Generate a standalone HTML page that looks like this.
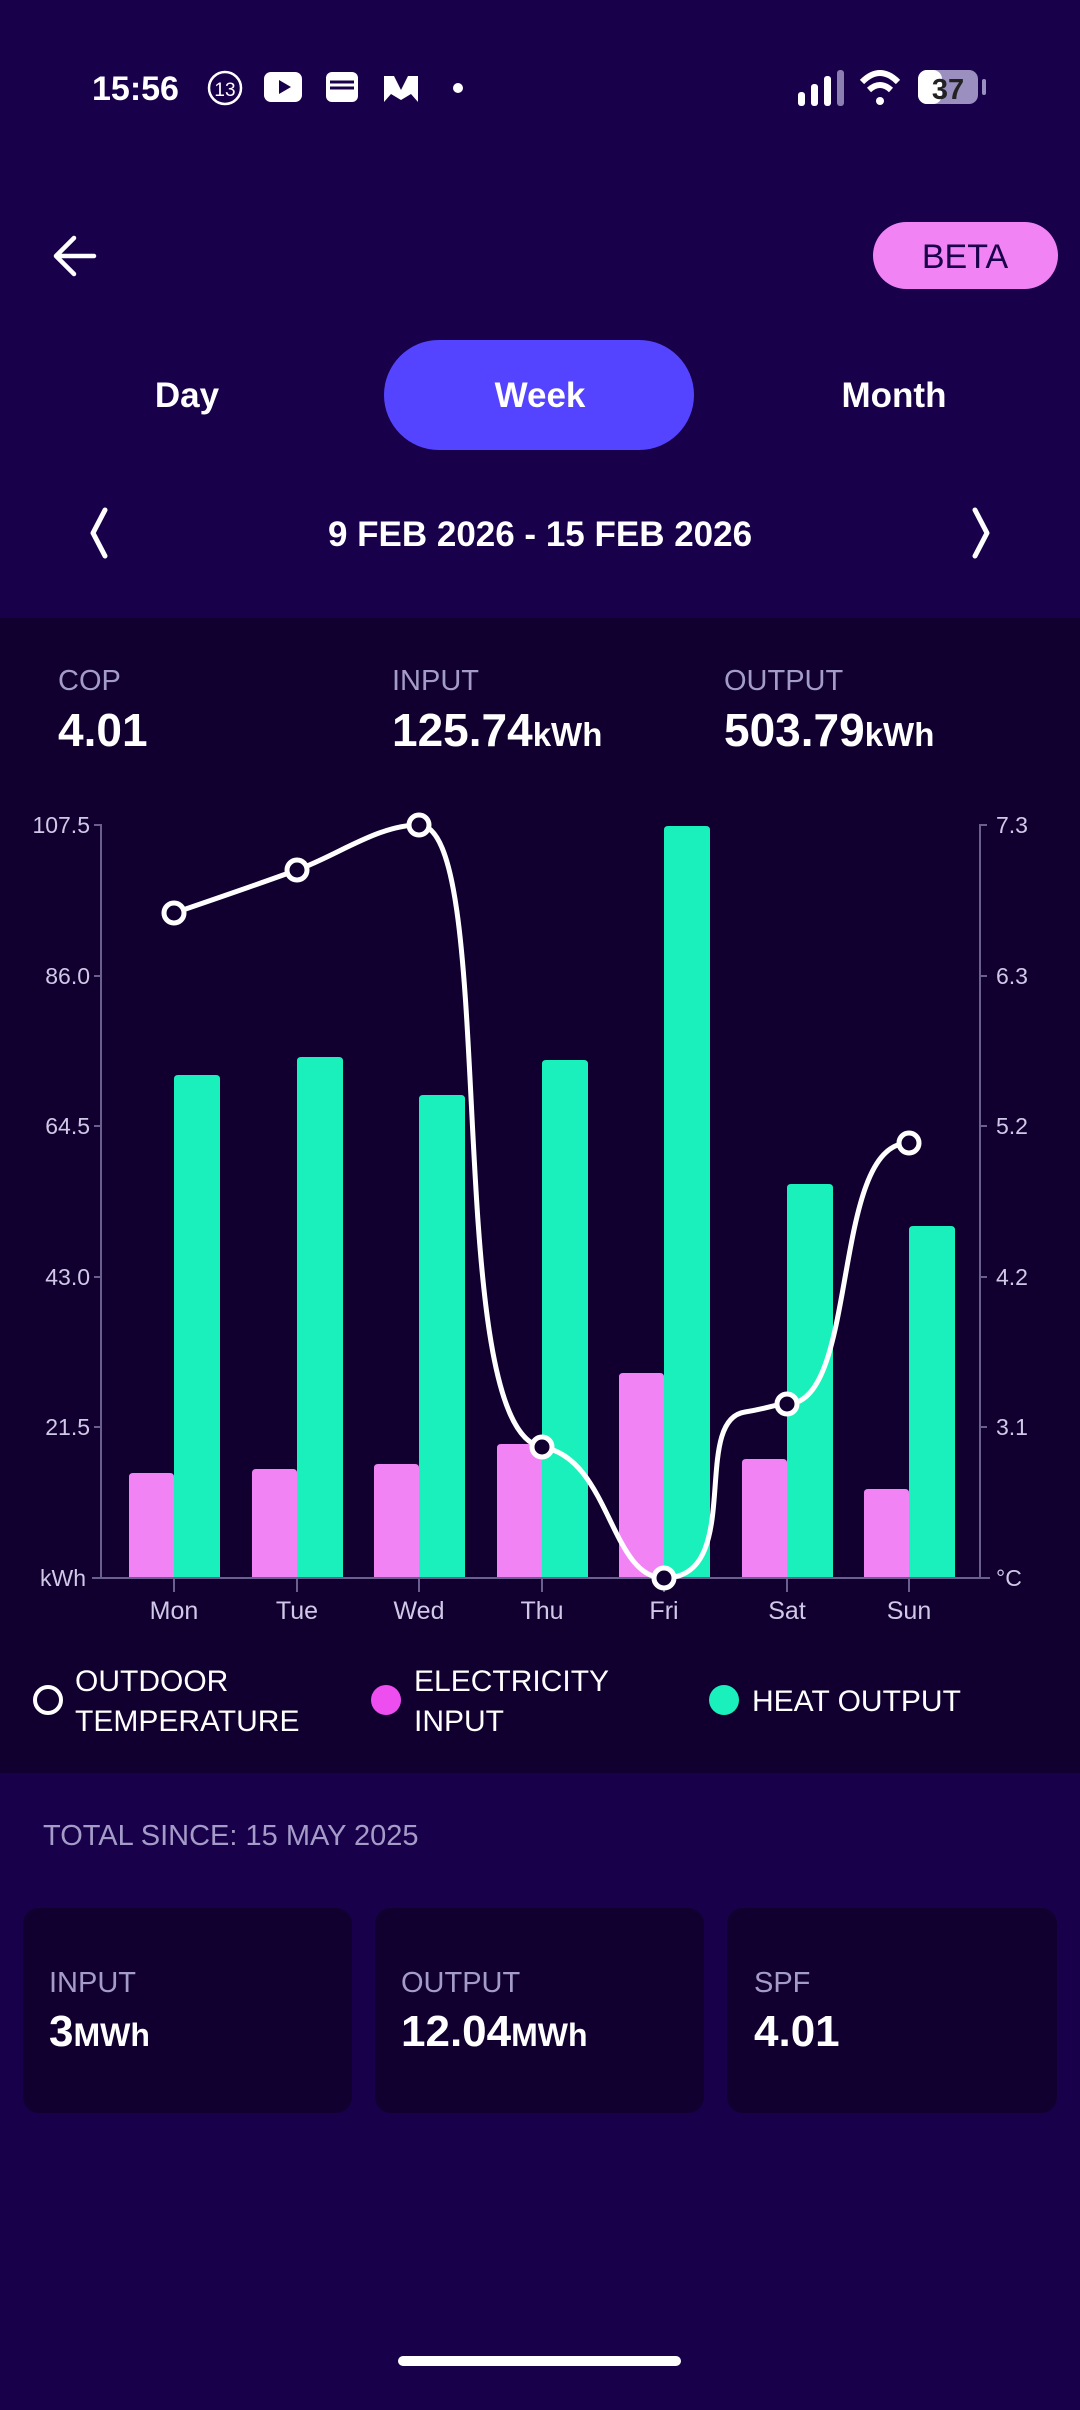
<!DOCTYPE html>
<html><head><meta charset="utf-8"><style>
html,body{margin:0;padding:0;background:#19004a;}
svg{display:block;font-family:"Liberation Sans",sans-serif;}
</style></head><body>
<svg width="1080" height="2410" viewBox="0 0 1080 2410" xmlns="http://www.w3.org/2000/svg">
<rect width="1080" height="2410" fill="#19004a"/>
<!-- status bar -->
<text x="92" y="100" fill="#fff" font-size="34" font-weight="bold">15:56</text>
<circle cx="225" cy="88" r="16" fill="none" stroke="#fff" stroke-width="2.5"/>
<text x="225" y="96" fill="#fff" font-size="19" text-anchor="middle">13</text>
<rect x="264" y="72" width="38" height="30" rx="7" fill="#fff"/><path d="M279 80 L291 87 L279 94Z" fill="#19004a"/>
<rect x="326" y="72" width="32" height="30" rx="6" fill="#fff"/><path d="M330 82 H354 M330 88 H354" stroke="#19004a" stroke-width="3"/>
<path d="M384 102 V76 L394 76 L401 90 L408 76 L418 76 V102 L411 94 L401 100 L391 94Z" fill="#fff"/>
<circle cx="458" cy="88" r="5" fill="#fff"/>
<rect x="798" y="92" width="7" height="14" rx="3" fill="#fff"/><rect x="811" y="84" width="7" height="22" rx="3" fill="#fff"/><rect x="824" y="76" width="7" height="30" rx="3" fill="#fff"/><rect x="837" y="70" width="7" height="36" rx="3" fill="#8a7fb0"/>
<path d="M862 82 Q880 64 898 82" stroke="#fff" stroke-width="6" fill="none"/><path d="M869 90 Q880 80 891 90" stroke="#fff" stroke-width="6" fill="none"/><circle cx="880" cy="101" r="4" fill="#fff"/>
<rect x="918" y="70" width="60" height="34" rx="9" fill="#9a8fbf"/><rect x="918" y="70" width="24" height="34" rx="9" fill="#fff"/>
<text x="948" y="99" fill="#222" font-size="29" text-anchor="middle" font-weight="bold">37</text>
<rect x="982" y="79" width="4" height="16" rx="2" fill="#9a8fbf"/>
<!-- header -->
<path d="M94 256 H56 M74 238 L56 256 L74 274" stroke="#fff" stroke-width="4.5" fill="none" stroke-linecap="round" stroke-linejoin="round"/>
<rect x="873" y="222" width="185" height="67" rx="33.5" fill="#f283f5"/>
<text x="965" y="268" fill="#19004a" font-size="34" text-anchor="middle">BETA</text>
<rect x="384" y="340" width="310" height="110" rx="55" fill="#5544ff"/>
<text x="187" y="407" fill="#fff" font-size="35" font-weight="bold" text-anchor="middle">Day</text>
<text x="540" y="407" fill="#fff" font-size="35" font-weight="bold" text-anchor="middle">Week</text>
<text x="894" y="407" fill="#fff" font-size="35" font-weight="bold" text-anchor="middle">Month</text>
<path d="M105 510 L93 533 L105 556" stroke="#fff" stroke-width="5" fill="none" stroke-linecap="round" stroke-linejoin="round"/>
<path d="M975 510 L987 533 L975 556" stroke="#fff" stroke-width="5" fill="none" stroke-linecap="round" stroke-linejoin="round"/>
<text x="540" y="546" fill="#fff" font-size="35" font-weight="bold" text-anchor="middle">9 FEB 2026 - 15 FEB 2026</text>
<!-- panel -->
<rect x="0" y="618" width="1080" height="1155" fill="#11002f"/>
<g font-size="29" fill="#a49cc8"><text x="58" y="690">COP</text><text x="392" y="690">INPUT</text><text x="724" y="690">OUTPUT</text></g>
<g fill="#fff" font-weight="bold"><text x="58" y="746" font-size="46">4.01</text>
<text x="392" y="746" font-size="46">125.74<tspan font-size="33">kWh</tspan></text>
<text x="724" y="746" font-size="46">503.79<tspan font-size="33">kWh</tspan></text></g>
<!-- axes -->
<g stroke="#6a6090" stroke-width="2" fill="none">
<path d="M94 825 H101 V1578 M94 976 H101 M94 1126 H101 M94 1277 H101 M94 1427 H101"/>
<path d="M987 825 H980 V1578 M987 976 H980 M987 1126 H980 M987 1277 H980 M987 1427 H980"/>
<path d="M92 1578 H990"/>
<path d="M174 1578 V1592 M297 1578 V1592 M419 1578 V1592 M542 1578 V1592 M664 1578 V1592 M787 1578 V1592 M909 1578 V1592"/>
</g>
<g font-size="23" fill="#cfc8e6" text-anchor="end"><text x="90" y="833">107.5</text><text x="90" y="984">86.0</text><text x="90" y="1134">64.5</text><text x="90" y="1285">43.0</text><text x="90" y="1435">21.5</text><text x="86" y="1586">kWh</text></g>
<g font-size="23" fill="#cfc8e6"><text x="996" y="833">7.3</text><text x="996" y="984">6.3</text><text x="996" y="1134">5.2</text><text x="996" y="1285">4.2</text><text x="996" y="1435">3.1</text><text x="996" y="1586">°C</text></g>
<g font-size="25" fill="#cfc8e6" text-anchor="middle"><text x="174" y="1619">Mon</text><text x="297" y="1619">Tue</text><text x="419" y="1619">Wed</text><text x="542" y="1619">Thu</text><text x="664" y="1619">Fri</text><text x="787" y="1619">Sat</text><text x="909" y="1619">Sun</text></g>
<!-- bars -->
<g fill="#f283f5">
<path d="M129 1577 V1477 Q129 1473 133 1473 H170 Q174 1473 174 1477 V1577Z"/>
<path d="M252 1577 V1473 Q252 1469 256 1469 H293 Q297 1469 297 1473 V1577Z"/>
<path d="M374 1577 V1468 Q374 1464 378 1464 H415 Q419 1464 419 1468 V1577Z"/>
<path d="M497 1577 V1448 Q497 1444 501 1444 H538 Q542 1444 542 1448 V1577Z"/>
<path d="M619 1577 V1377 Q619 1373 623 1373 H660 Q664 1373 664 1377 V1577Z"/>
<path d="M742 1577 V1463 Q742 1459 746 1459 H783 Q787 1459 787 1463 V1577Z"/>
<path d="M864 1577 V1493 Q864 1489 868 1489 H905 Q909 1489 909 1493 V1577Z"/>
</g>
<g fill="#1af0bb">
<path d="M174 1577 V1079 Q174 1075 178 1075 H216 Q220 1075 220 1079 V1577Z"/>
<path d="M297 1577 V1061 Q297 1057 301 1057 H339 Q343 1057 343 1061 V1577Z"/>
<path d="M419 1577 V1099 Q419 1095 423 1095 H461 Q465 1095 465 1099 V1577Z"/>
<path d="M542 1577 V1064 Q542 1060 546 1060 H584 Q588 1060 588 1064 V1577Z"/>
<path d="M664 1577 V830 Q664 826 668 826 H706 Q710 826 710 830 V1577Z"/>
<path d="M787 1577 V1188 Q787 1184 791 1184 H829 Q833 1184 833 1188 V1577Z"/>
<path d="M909 1577 V1230 Q909 1226 913 1226 H951 Q955 1226 955 1230 V1577Z"/>
</g>
<!-- temperature line -->
<path d="M174 913 C215 899 256 885 297 870 C338 855 378 825 419 825 C500 825 440 1430 542 1447 C610 1458 610 1578 664 1578 C745 1578 690 1420 745 1412 C770 1408 775 1404 787 1404 C860 1404 830 1143 909 1143" stroke="#fff" stroke-width="5" fill="none"/>
<g fill="#11002f" stroke="#fff" stroke-width="5">
<circle cx="174" cy="913" r="10"/><circle cx="297" cy="870" r="10"/><circle cx="419" cy="825" r="10"/><circle cx="542" cy="1447" r="10"/><circle cx="664" cy="1578" r="10"/><circle cx="787" cy="1404" r="10"/><circle cx="909" cy="1143" r="10"/>
</g>
<!-- legend -->
<circle cx="48" cy="1700" r="13" fill="none" stroke="#fff" stroke-width="4"/>
<circle cx="386" cy="1700" r="15" fill="#ee4ef0"/>
<circle cx="724" cy="1700" r="15" fill="#1af0bb"/>
<g fill="#fff" font-size="30"><text x="75" y="1691">OUTDOOR</text><text x="75" y="1731">TEMPERATURE</text>
<text x="414" y="1691">ELECTRICITY</text><text x="414" y="1731">INPUT</text><text x="752" y="1711">HEAT OUTPUT</text></g>
<!-- totals -->
<text x="43" y="1845" fill="#a49cc8" font-size="29">TOTAL SINCE: 15 MAY 2025</text>
<g fill="#11002f"><rect x="23" y="1908" width="329" height="205" rx="16"/><rect x="375" y="1908" width="329" height="205" rx="16"/><rect x="727" y="1908" width="330" height="205" rx="16"/></g>
<g font-size="29" fill="#a49cc8"><text x="49" y="1992">INPUT</text><text x="401" y="1992">OUTPUT</text><text x="754" y="1992">SPF</text></g>
<g fill="#fff" font-weight="bold"><text x="49" y="2046" font-size="44">3<tspan font-size="32">MWh</tspan></text>
<text x="401" y="2046" font-size="44">12.04<tspan font-size="32">MWh</tspan></text>
<text x="754" y="2046" font-size="44">4.01</text></g>
<rect x="398" y="2356" width="283" height="10" rx="5" fill="#fff"/>
</svg>
</body></html>
